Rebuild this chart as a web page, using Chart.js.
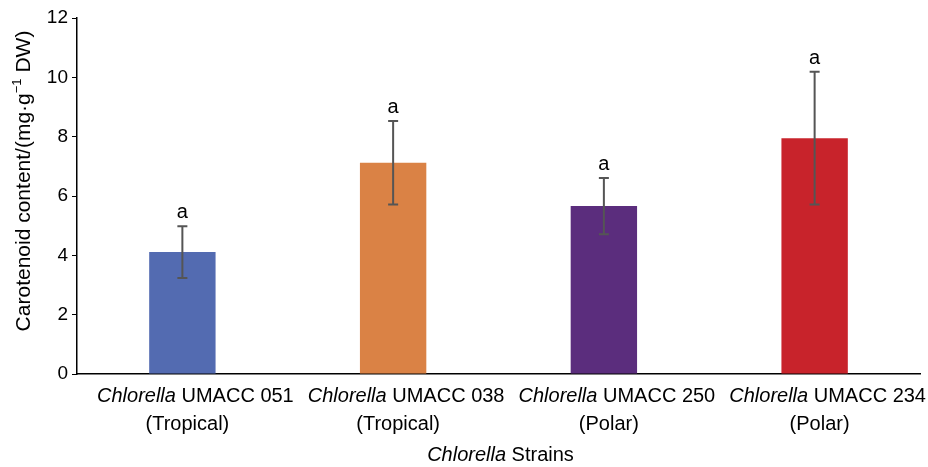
<!DOCTYPE html>
<html><head><meta charset="utf-8">
<script src="https://cdn.jsdelivr.net/npm/chart.js@4"></script>
<style>html,body{margin:0;padding:0;background:#fff}#wrap{width:928px;height:467px}</style>
</head><body><div id="wrap"><canvas id="c" width="928" height="467"></canvas></div>
<script>
const strains = ["UMACC 051", "UMACC 038", "UMACC 250", "UMACC 234"];
const origins = ["(Tropical)", "(Tropical)", "(Polar)", "(Polar)"];
const carotenoid = [4.11, 7.12, 5.66, 7.95];
const errors = [0.87, 1.41, 0.95, 2.24];
const letters = ["a", "a", "a", "a"];
const barColors = ["#536BB1", "#DA8245", "#5B2D7D", "#C8232B"];
const yTicks = [0, 2, 4, 6, 8, 10, 12];
const yTitleParts = ["Carotenoid content/(mg·g", "−1", " DW)"];

const FONT = "'Liberation Sans', Arial, sans-serif";
const LBL = 20;

const extras = {
  id: 'extras',
  afterDatasetsDraw(chart) {
    const ctx = chart.ctx, x = chart.scales.x, y = chart.scales.y;
    ctx.save();
    carotenoid.forEach((v, i) => {
      const cx = x.getPixelForValue(i);
      const top = y.getPixelForValue(v + errors[i]);
      const bot = y.getPixelForValue(v - errors[i]);
      ctx.strokeStyle = '#555555';
      ctx.lineWidth = 2;
      ctx.beginPath();
      ctx.moveTo(cx, top); ctx.lineTo(cx, bot);
      ctx.moveTo(cx - 5, top); ctx.lineTo(cx + 5, top);
      ctx.moveTo(cx - 5, bot); ctx.lineTo(cx + 5, bot);
      ctx.stroke();
      ctx.fillStyle = '#000';
      ctx.font = '20px ' + FONT;
      ctx.textAlign = 'center';
      ctx.textBaseline = 'alphabetic';
      ctx.fillText(letters[i], cx, top - 8);
    });
    const base = y.getPixelForValue(0);
    ctx.textBaseline = 'middle';
    const mixed = (a, b, cx, cy) => {
      ctx.font = 'italic ' + LBL + 'px ' + FONT;
      const w1 = ctx.measureText(a).width;
      ctx.font = LBL + 'px ' + FONT;
      const w2 = ctx.measureText(b).width;
      const start = cx - (w1 + w2) / 2;
      ctx.textAlign = 'left';
      ctx.font = 'italic ' + LBL + 'px ' + FONT;
      ctx.fillText(a, start, cy);
      ctx.font = LBL + 'px ' + FONT;
      ctx.fillText(b, start + w1, cy);
    };
    strains.forEach((s, i) => {
      const cx = x.getPixelForValue(i);
      mixed('Chlorella', ' ' + s, cx + 13, base + 22);
      ctx.textAlign = 'center';
      ctx.font = LBL + 'px ' + FONT;
      ctx.fillText(origins[i], cx + 5, base + 50);
    });
    const mid = (chart.chartArea.left + chart.chartArea.right) / 2;
    mixed('Chlorella', ' Strains', mid + 2, base + 81);

    // y-axis title with superscript
    ctx.save();
    ctx.translate(30, 181);
    ctx.rotate(-Math.PI / 2);
    ctx.textBaseline = 'alphabetic';
    ctx.textAlign = 'left';
    ctx.font = '21px ' + FONT;
    const p1 = ctx.measureText(yTitleParts[0]).width;
    const p3 = ctx.measureText(yTitleParts[2]).width;
    ctx.font = '13px ' + FONT;
    const p2 = ctx.measureText(yTitleParts[1]).width;
    let sx = -(p1 + p2 + p3) / 2;
    ctx.font = '21px ' + FONT;
    ctx.fillText(yTitleParts[0], sx, 0);
    sx += p1;
    ctx.font = '13px ' + FONT;
    ctx.fillText(yTitleParts[1], sx, -9);
    sx += p2;
    ctx.font = '21px ' + FONT;
    ctx.fillText(yTitleParts[2], sx, 0);
    ctx.restore();
    ctx.restore();
  }
};

new Chart(document.getElementById('c'), {
  type: 'bar',
  data: {
    labels: strains,
    datasets: [{
      data: carotenoid,
      backgroundColor: barColors,
      borderWidth: 0,
      barPercentage: 0.315,
      categoryPercentage: 1.0
    }]
  },
  options: {
    responsive: false,
    animation: false,
    devicePixelRatio: 1,
    layout: { padding: { left: 0, right: 8, top: 18, bottom: 93 } },
    plugins: { legend: { display: false }, tooltip: { enabled: false } },
    scales: {
      x: {
        grid: { display: false, drawTicks: false },
        border: { color: '#000', width: 1.5 },
        ticks: { display: false }
      },
      y: {
        min: 0, max: 12,
        afterBuildTicks(s) { s.ticks = yTicks.map(v => ({ value: v })); },
        afterFit(s) { s.width = 77; },
        grid: { drawOnChartArea: false, drawTicks: true, tickLength: 5, tickColor: '#000' },
        border: { color: '#000', width: 1.5 },
        ticks: { color: '#000', font: { size: 19, family: FONT }, padding: 4 },
        title: { display: false }
      }
    }
  },
  plugins: [extras]
});
</script>
</body></html>
